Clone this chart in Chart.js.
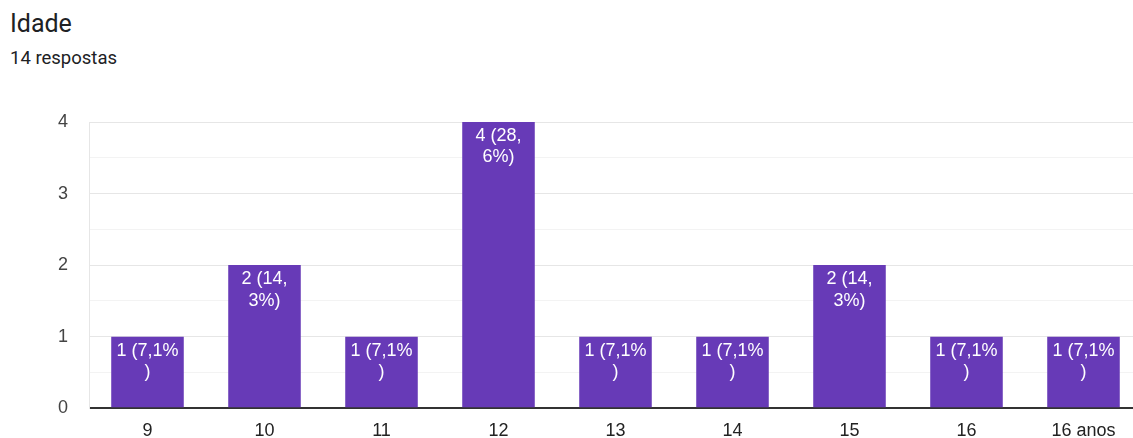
<!DOCTYPE html>
<html>
<head>
<meta charset="utf-8">
<script src="https://cdn.jsdelivr.net/npm/chart.js@4"></script>
<style>
  html, body { margin: 0; padding: 0; background: #fff; overflow: hidden; }
  body { width: 1133px; height: 438px; position: relative; }
  #titulo { position: absolute; left: 10px; top: 9px; font-family: Roboto, Arial, sans-serif; font-size: 25px; color: #202124; }
  #sub { position: absolute; left: 10px; top: 47px; font-family: Roboto, Arial, sans-serif; font-size: 18.5px; color: #202124; }
  #wrap { position: absolute; left: 0; top: 0; width: 1150px; height: 440px; }
</style>
</head>
<body>
<div id="titulo">Idade</div>
<div id="sub">14 respostas</div>
<div id="wrap"><canvas id="idadeChart"></canvas></div>
<script>
// categorias e respostas
var idades = ['9', '10', '11', '12', '13', '14', '15', '16', '16 anos'];
var respostas = [1, 2, 1, 4, 1, 1, 2, 1, 1];
var rotulos = [
  ['1 (7,1%', ')'], ['2 (14,', '3%)'], ['1 (7,1%', ')'], ['4 (28,', '6%)'], ['1 (7,1%', ')'],
  ['1 (7,1%', ')'], ['2 (14,', '3%)'], ['1 (7,1%', ')'], ['1 (7,1%', ')']
];
var yTicks = [0, 1, 2, 3, 4];

// escreve os rótulos dentro das barras
var rotuloPlugin = {
  id: 'rotuloBarras',
  afterDatasetsDraw: function(chart) {
    var ctx = chart.ctx;
    var meta = chart.getDatasetMeta(0);
    ctx.save();
    ctx.fillStyle = '#ffffff';
    ctx.font = '18px "Liberation Sans", Arial, sans-serif';
    ctx.textAlign = 'center';
    ctx.textBaseline = 'middle';
    meta.data.forEach(function(bar, i) {
      rotulos[i].forEach(function(linha, j) {
        ctx.fillText(linha, bar.x, bar.y + 14 + j * 21.5);
      });
    });
    ctx.restore();
  }
};

var ctx = document.getElementById('idadeChart').getContext('2d');
var idadeChart = new Chart(ctx, {
  type: 'bar',
  data: {
    labels: idades,
    datasets: [{
      data: respostas,
      backgroundColor: '#673ab7',
      barPercentage: 0.62,
      categoryPercentage: 1
    }]
  },
  options: {
    responsive: true,
    maintainAspectRatio: false,
    animation: false,
    layout: { padding: { top: 122, right: 8, left: 0, bottom: 0 } },
    plugins: {
      legend: { display: false },
      tooltip: { enabled: false }
    },
    scales: {
      x: {
        grid: { display: false, drawTicks: false },
        border: { display: false },
        ticks: {
          color: '#222',
          padding: 12,
          font: { family: '"Liberation Sans", Arial, sans-serif', size: 18 },
          maxRotation: 0,
          autoSkip: false
        },
        afterFit: function(scale) { scale.height = 30; }
      },
      y: {
        min: 0,
        max: 4,
        ticks: {
          stepSize: 0.5,
          color: '#444',
          padding: 21,
          font: { family: '"Liberation Sans", Arial, sans-serif', size: 18 },
          callback: function(v) { return yTicks.indexOf(v) >= 0 ? v : ''; }
        },
        grid: {
          drawTicks: false,
          color: function(c) {
            if (c.tick.value === 0) return '#333333';
            return Number.isInteger(c.tick.value) ? '#e6e6e6' : '#f3f3f3';
          },
          lineWidth: function(c) { return c.tick.value === 0 ? 2 : 1; }
        },
        border: { display: true, color: '#e6e6e6' },
        afterFit: function(scale) { scale.width = 89; }
      }
    }
  },
  plugins: [rotuloPlugin]
});
</script>
</body>
</html>
